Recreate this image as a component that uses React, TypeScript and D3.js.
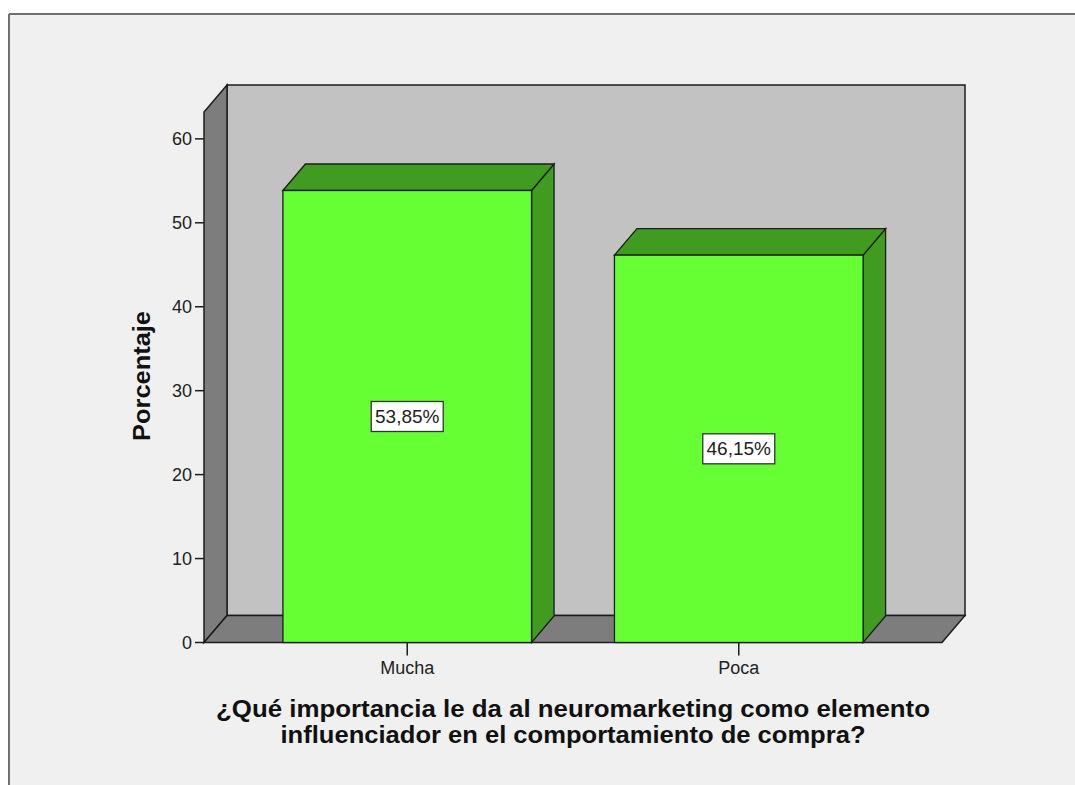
import React from "react";
import * as d3 from "d3";

const categories = ["Mucha", "Poca"];
const percentages = [53.85, 46.15];
const valueLabels = ["53,85%", "46,15%"];
const yTicks = [0, 10, 20, 30, 40, 50, 60];
const titleLines = [
  "¿Qué importancia le da al neuromarketing como elemento",
  "influenciador en el comportamiento de compra?",
];
const titleWidths = [714, 585];

const W = 1075;
const H = 785;
const X0 = 204;
const X1 = 942;
const Y0 = 642.5;
const YTOP = 112;
const DX = 23;
const DY = -27;
const BDX = 22.5;
const BDY = -26.5;

export default function App() {
  const x = d3
    .scaleBand<string>()
    .domain(categories)
    .range([X0, X1])
    .paddingInner(0.25)
    .paddingOuter(0.238);
  const y = d3.scaleLinear().domain([0, 63.2]).range([Y0, YTOP]);

  const line = d3.line();
  const poly = (pts: [number, number][]) => line(pts)! + "Z";

  const stroke = "#1c1c1c";
  const font = "Arial, 'Liberation Sans', sans-serif";

  return (
    <svg
      width={W}
      height={H}
      style={{ position: "absolute", left: 0, top: 0 }}
      fontFamily={font}
    >
      <rect x={0} y={0} width={W} height={H} fill="#ffffff" />
      <rect x={9} y={14} width={W} height={H} fill="#f0f0f0" />
      <line x1={9} y1={14} x2={W} y2={14} stroke="#707070" strokeWidth={2} />
      <line x1={9} y1={14} x2={9} y2={H} stroke="#707070" strokeWidth={2} />

      {/* back wall */}
      <path
        d={poly([
          [X0 + DX, y(63.2) + DY],
          [X1 + DX, y(63.2) + DY],
          [X1 + DX, Y0 + DY],
          [X0 + DX, Y0 + DY],
        ])}
        fill="#c2c2c2"
        stroke={stroke}
        strokeWidth={1.5}
      />
      {/* left wall */}
      <path
        d={poly([
          [X0, Y0],
          [X0, y(63.2)],
          [X0 + DX, y(63.2) + DY],
          [X0 + DX, Y0 + DY],
        ])}
        fill="#7d7d7d"
        stroke={stroke}
        strokeWidth={1.5}
      />
      {/* floor */}
      <path
        d={poly([
          [X0, Y0],
          [X0 + DX, Y0 + DY],
          [X1 + DX, Y0 + DY],
          [X1, Y0],
        ])}
        fill="#7d7d7d"
        stroke={stroke}
        strokeWidth={1.5}
      />

      {/* bars */}
      {categories.map((c, i) => {
        const bx = x(c)!;
        const bw = x.bandwidth();
        const top = y(percentages[i]);
        return (
          <g key={c}>
            <path
              d={poly([
                [bx + bw, Y0],
                [bx + bw, top],
                [bx + bw + BDX, top + BDY],
                [bx + bw + BDX, Y0 + BDY],
              ])}
              fill="#409c20"
              stroke={stroke}
              strokeWidth={1.3}
            />
            <path
              d={poly([
                [bx, top],
                [bx + BDX, top + BDY],
                [bx + bw + BDX, top + BDY],
                [bx + bw, top],
              ])}
              fill="#409c20"
              stroke={stroke}
              strokeWidth={1.3}
            />
            <rect
              x={bx}
              y={top}
              width={bw}
              height={Y0 - top}
              fill="#66ff33"
              stroke={stroke}
              strokeWidth={1.3}
            />
            <rect
              x={bx + bw / 2 - 36}
              y={(top + Y0) / 2 - 15}
              width={72}
              height={30}
              fill="#ffffff"
              stroke="#333333"
              strokeWidth={1.3}
            />
            <text
              x={bx + bw / 2}
              y={(top + Y0) / 2 + 6.5}
              textAnchor="middle"
              fontSize={19}
              fill="#222"
            >
              {valueLabels[i]}
            </text>
          </g>
        );
      })}

      {/* y axis ticks */}
      {yTicks.map((t) => (
        <g key={t}>
          <line
            x1={X0 - 9}
            x2={X0}
            y1={y(t)}
            y2={y(t)}
            stroke={stroke}
            strokeWidth={1.5}
          />
          <text
            x={X0 - 12}
            y={y(t) + 6.5}
            textAnchor="end"
            fontSize={18}
            fill="#222"
          >
            {t}
          </text>
        </g>
      ))}

      {/* x axis ticks */}
      {categories.map((c) => {
        const cx = x(c)! + x.bandwidth() / 2;
        return (
          <g key={c}>
            <line
              x1={cx}
              x2={cx}
              y1={Y0}
              y2={Y0 + 13}
              stroke={stroke}
              strokeWidth={1.5}
            />
            <text x={cx} y={673.5} textAnchor="middle" fontSize={18} fill="#222">
              {c}
            </text>
          </g>
        );
      })}

      {/* axis titles */}
      <text
        transform={`translate(150, 376) rotate(-90)`}
        textAnchor="middle"
        fontSize={23}
        fontWeight="bold"
        fill="#111"
        textLength={130}
        lengthAdjust="spacingAndGlyphs"
      >
        Porcentaje
      </text>
      {titleLines.map((t, i) => (
        <text
          key={i}
          x={(X0 + X1) / 2}
          y={717 + i * 26}
          textAnchor="middle"
          fontSize={23}
          fontWeight="bold"
          fill="#111"
          textLength={titleWidths[i]}
          lengthAdjust="spacingAndGlyphs"
        >
          {t}
        </text>
      ))}
    </svg>
  );
}
